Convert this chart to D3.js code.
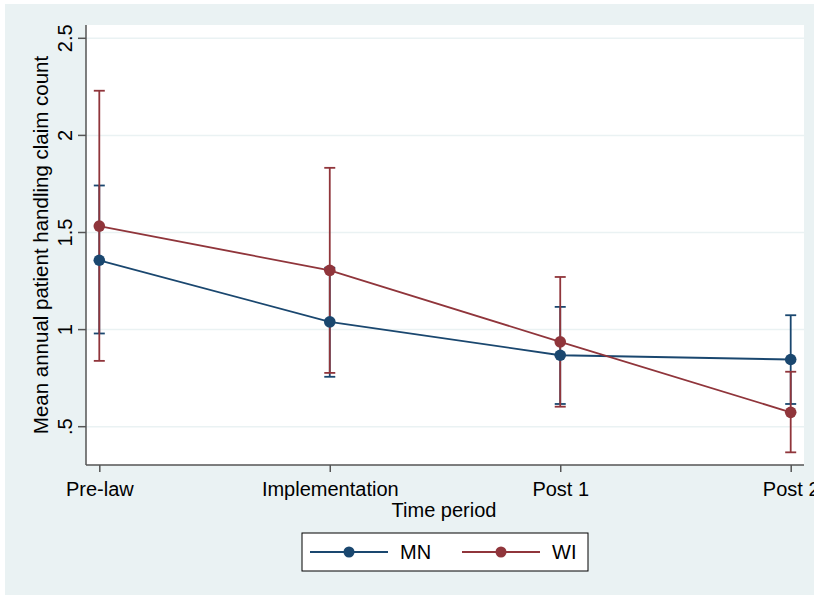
<!DOCTYPE html>
<html>
<head>
<meta charset="utf-8">
<script src="https://cdn.jsdelivr.net/npm/d3@7"></script>
<style>
  body { margin: 0; background: #ffffff; }
  text { font-family: "Liberation Sans", Arial, sans-serif; fill: #000; }
</style>
</head>
<body>
<script>
// data
const periods = ['Pre-law', 'Implementation', 'Post 1', 'Post 2'];
const mnMean = [1.357, 1.040, 0.868, 0.846];
const mnLow  = [0.980, 0.757, 0.617, 0.617];
const mnHigh = [1.742, 1.318, 1.117, 1.074];
const wiMean = [1.533, 1.305, 0.937, 0.574];
const wiLow  = [0.839, 0.777, 0.603, 0.368];
const wiHigh = [2.230, 1.833, 1.271, 0.783];
const yTicks = [0.5, 1, 1.5, 2, 2.5];
const yTickLabels = ['.5', '1', '1.5', '2', '2.5'];

const series = [
  {name: 'MN', color: '#1a476f', mean: mnMean, low: mnLow, high: mnHigh},
  {name: 'WI', color: '#90353b', mean: wiMean, low: wiLow, high: wiHigh}
];

const W = 814, H = 595;
const plot = {left: 86, right: 804, top: 25, bottom: 465};

const svg = d3.select('body').append('svg')
    .attr('width', W)
    .attr('height', H);

// outer background
svg.append('rect')
    .attr('x', 5).attr('y', 4)
    .attr('width', W - 5).attr('height', H - 4)
    .attr('fill', '#eaf2f3');

// plot region
svg.append('rect')
    .attr('x', plot.left).attr('y', plot.top)
    .attr('width', plot.right - plot.left).attr('height', plot.bottom - plot.top)
    .attr('fill', '#ffffff');

const x = d3.scaleLinear().domain([0, 3]).range([99.3, 790.7]);
const y = d3.scaleLinear().domain([0.5, 2.5]).range([426.7, 38.3]);

// gridlines
svg.append('g').selectAll('line')
    .data(yTicks)
    .enter().append('line')
    .attr('x1', plot.left).attr('x2', plot.right)
    .attr('y1', d => y(d)).attr('y2', d => y(d))
    .attr('stroke', '#eaf2f3')
    .attr('stroke-width', 1.5);

// y axis
const yAxis = svg.append('g')
    .attr('transform', 'translate(' + plot.left + ',0)')
    .call(d3.axisLeft(y).tickValues(yTicks)
        .tickFormat((d, i) => yTickLabels[i])
        .tickSize(8).tickPadding(4));
yAxis.select('.domain').attr('d', 'M0,' + plot.top + 'V' + plot.bottom);
yAxis.selectAll('text')
    .attr('x', 0).attr('y', 0).attr('dy', 0)
    .attr('text-anchor', 'middle')
    .attr('transform', d => 'translate(-14,' + y(d) + ') rotate(-90)')
    .style('font-size', '20px')
    .style('font-family', '"Liberation Sans", Arial, sans-serif');
yAxis.selectAll('.tick').attr('transform', null);
yAxis.selectAll('.tick line').attr('y1', d => y(d)).attr('y2', d => y(d));

// x axis
const xAxis = svg.append('g')
    .attr('transform', 'translate(0,' + plot.bottom + ')')
    .call(d3.axisBottom(x).tickValues([0, 1, 2, 3])
        .tickFormat((d, i) => periods[i])
        .tickSize(7).tickPadding(8));
xAxis.select('.domain').attr('d', 'M' + plot.left + ',0H' + plot.right);
xAxis.selectAll('text')
    .attr('dy', 0).attr('y', 31)
    .style('font-size', '20px')
    .style('font-family', '"Liberation Sans", Arial, sans-serif');

svg.selectAll('.domain, .tick line')
    .attr('stroke', '#555555')
    .attr('stroke-width', 1.5);

// axis titles
svg.append('text')
    .attr('transform', 'translate(48,' + (plot.top + plot.bottom) / 2 + ') rotate(-90)')
    .attr('text-anchor', 'middle')
    .style('font-size', '20.5px')
    .text('Mean annual patient handling claim count');

svg.append('text')
    .attr('x', 444).attr('y', 517)
    .attr('text-anchor', 'middle')
    .style('font-size', '20px')
    .text('Time period');

// confidence intervals
const capW = 5.5;
series.forEach(s => {
  const g = svg.append('g')
      .attr('stroke', s.color)
      .attr('stroke-width', 1.8);
  periods.forEach((p, i) => {
    g.append('line')
        .attr('x1', x(i)).attr('x2', x(i))
        .attr('y1', y(s.low[i])).attr('y2', y(s.high[i]));
    g.append('line')
        .attr('x1', x(i) - capW).attr('x2', x(i) + capW)
        .attr('y1', y(s.low[i])).attr('y2', y(s.low[i]));
    g.append('line')
        .attr('x1', x(i) - capW).attr('x2', x(i) + capW)
        .attr('y1', y(s.high[i])).attr('y2', y(s.high[i]));
  });
});

// lines and markers
const line = d3.line()
    .x((d, i) => x(i))
    .y(d => y(d));

series.forEach(s => {
  svg.append('path')
      .datum(s.mean)
      .attr('d', line)
      .attr('fill', 'none')
      .attr('stroke', s.color)
      .attr('stroke-width', 1.8);
  svg.append('g').selectAll('circle')
      .data(s.mean)
      .enter().append('circle')
      .attr('cx', (d, i) => x(i))
      .attr('cy', d => y(d))
      .attr('r', 5.8)
      .attr('fill', s.color);
});

// legend
const legend = svg.append('g');
legend.append('rect')
    .attr('x', 302).attr('y', 533)
    .attr('width', 286).attr('height', 38)
    .attr('fill', '#ffffff')
    .attr('stroke', '#000000')
    .attr('stroke-width', 1);

const legendX = [310, 462];
series.forEach((s, i) => {
  const lx = legendX[i];
  legend.append('line')
      .attr('x1', lx).attr('x2', lx + 78)
      .attr('y1', 552).attr('y2', 552)
      .attr('stroke', s.color)
      .attr('stroke-width', 1.8);
  legend.append('circle')
      .attr('cx', lx + 39).attr('cy', 552)
      .attr('r', 5.5)
      .attr('fill', s.color);
  legend.append('text')
      .attr('x', lx + 90).attr('y', 559)
      .style('font-size', '20px')
      .text(s.name);
});
</script>
</body>
</html>
